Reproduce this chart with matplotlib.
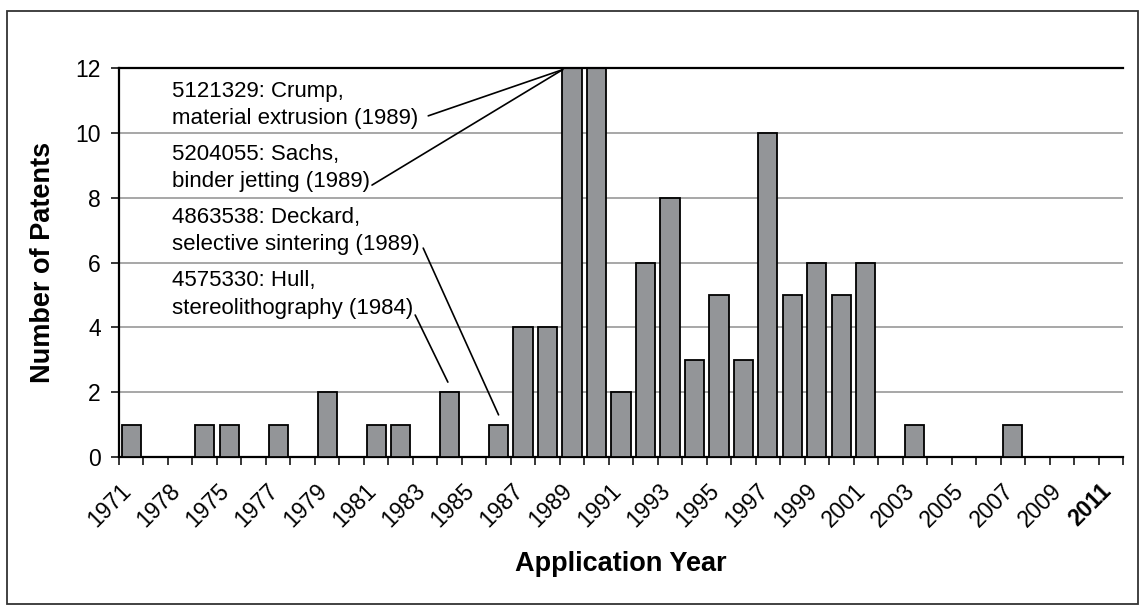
import matplotlib.pyplot as plt
import matplotlib.transforms as mtransforms
from matplotlib.patches import Rectangle
import numpy as np

plt.rcParams['font.family'] = ['Liberation Sans', 'DejaVu Sans']

years = list(range(1971, 2012))
patents = [1, 0, 0, 1, 1, 0, 1, 0, 2, 0,
           1, 1, 0, 2, 0, 1, 4, 4, 12, 12,
           2, 6, 8, 3, 5, 3, 10, 5, 6, 5,
           6, 0, 1, 0, 0, 0, 1, 0, 0, 0, 0]
# labels as printed in the original (every second year, with its "1978" typo)
tick_labels = ["1971", "1978", "1975", "1977", "1979", "1981", "1983", "1985",
               "1987", "1989", "1991", "1993", "1995", "1997", "1999", "2001",
               "2003", "2005", "2007", "2009", "2011"]

# text, baseline of last line (axes frac), line start (axes frac), line end (data)
notes = [
    ("5121329: Crump,\nmaterial extrusion (1989)", 0.856, (0.308, 0.877), (17.62, 11.95)),
    ("5204055: Sachs,\nbinder jetting (1989)", 0.694, (0.252, 0.699), (17.62, 11.95)),
    ("4863538: Deckard,\nselective sintering (1989)", 0.532, (0.303, 0.537), (15.0, 1.3)),
    ("4575330: Hull,\nstereolithography (1984)", 0.368, (0.295, 0.365), (12.93, 2.31)),
]

fig = plt.figure(figsize=(11.45, 6.07), dpi=100)
ax = fig.add_axes([119 / 1145, 1 - 457 / 607, 1004 / 1145, 389 / 607])

x = np.arange(len(years))
ax.bar(x, patents, width=0.78, color="#939598", edgecolor="black", linewidth=1.3, zorder=3)

ax.set_xlim(-0.5, len(years) - 0.5)
ax.set_ylim(0, 12)
ax.set_yticks(np.arange(0, 13, 2))
ax.yaxis.grid(True, color="#a0a0a0", linewidth=1.3, zorder=0)
ax.axhline(12, color="black", linewidth=1.6, zorder=4, clip_on=False)

for side in ["top", "right"]:
    ax.spines[side].set_visible(False)
ax.spines["left"].set_linewidth(1.6)
ax.spines["bottom"].set_linewidth(1.6)

ax.set_xticks(x[::2])
ax.set_xticklabels(tick_labels, rotation=45, ha="right", fontsize=16.5)
ax.set_xticks(np.arange(-0.5, len(years), 1), minor=True)
ax.tick_params(axis="x", which="major", length=0, pad=16)
ax.tick_params(axis="x", which="minor", length=6, width=1.1, direction="out")
ax.tick_params(axis="y", length=6, width=1.1, direction="out", labelsize=16.5, pad=7)
shift = mtransforms.ScaledTranslation(5 / 100, 0, fig.dpi_scale_trans)
for lbl in ax.get_xticklabels():
    lbl.set_transform(lbl.get_transform() + shift)
ax.get_xticklabels()[-1].set_fontweight("bold")

ax.set_xlabel("Application Year", fontsize=19.5, fontweight="bold", labelpad=14)
ax.set_ylabel("Number of Patents", fontsize=19.5, fontweight="bold", labelpad=14)

for text, ty, start, end in notes:
    ax.text(0.0528, ty, text, transform=ax.transAxes, fontsize=16,
            va="baseline", ha="left", linespacing=1.4, zorder=5)
    ax.annotate("", xy=end, xycoords="data", xytext=start, textcoords="axes fraction",
                arrowprops=dict(arrowstyle="-", color="black", linewidth=1.2,
                                shrinkA=0, shrinkB=0), zorder=6)

fig.patches.append(Rectangle((7 / 1145, 1 - 604 / 607), 1131 / 1145, 593 / 607,
                             transform=fig.transFigure, fill=False,
                             edgecolor="#333333", linewidth=1.3))

fig.savefig("out.png", dpi=100)
